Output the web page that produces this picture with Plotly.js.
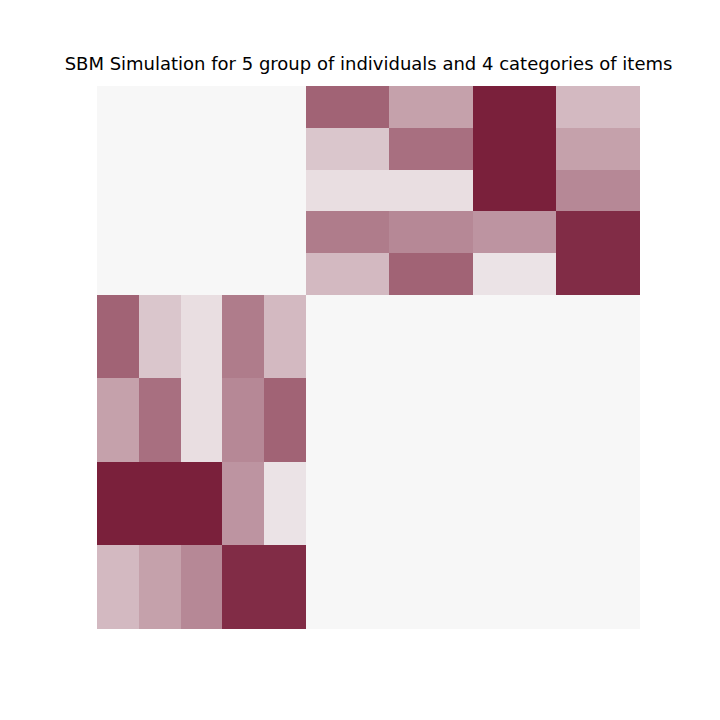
<!DOCTYPE html>
<html>
<head>
<meta charset="utf-8">
<script src="https://cdn.plot.ly/plotly-3.0.1.min.js"></script>
<style>
  html, body { margin: 0; padding: 0; background: #fff; }
  #sbm { width: 720px; height: 720px; }
</style>
</head>
<body>
<div id="sbm"></div>
<script>
// sizes of the blocks (individuals first, then items)
var groupSizes = [20, 20, 20, 20, 20];
var categorySizes = [40, 40, 40, 40];

// connection probability, one row per group of individuals, one column per item category
var probG1 = [0.60, 0.35, 0.87, 0.25];
var probG2 = [0.20, 0.55, 0.87, 0.35];
var probG3 = [0.10, 0.10, 0.87, 0.45];
var probG4 = [0.50, 0.45, 0.40, 0.82];
var probG5 = [0.25, 0.60, 0.08, 0.82];
var probs = [probG1, probG2, probG3, probG4, probG5];

// block edges along both axes of the adjacency matrix
var sizes = groupSizes.concat(categorySizes);
var edges = [0];
sizes.forEach(function (s) { edges.push(edges[edges.length - 1] + s); });

var nG = groupSizes.length;
var z = [];
for (var i = 0; i < sizes.length; i++) {
    var row = [];
    for (var j = 0; j < sizes.length; j++) {
        if (i < nG && j >= nG) row.push(probs[i][j - nG]);
        else if (i >= nG && j < nG) row.push(probs[j][i - nG]);
        else row.push(0);
    }
    z.push(row);
}

var trace = {
    type: 'heatmap',
    x: edges,
    y: edges,
    z: z,
    zmin: 0,
    zmax: 1,
    colorscale: [[0, '#f7f7f7'], [1, '#67001f']],
    showscale: false,
    hoverinfo: 'z'
};

var layout = {
    width: 720,
    height: 720,
    margin: {l: 97, r: 80, t: 86, b: 91},
    paper_bgcolor: '#ffffff',
    plot_bgcolor: '#ffffff',
    title: {
        text: 'SBM Simulation for 5 group of individuals and 4 categories of items',
        font: {family: 'DejaVu Sans', size: 18, color: '#000'},
        x: 0.5, xref: 'paper', xanchor: 'center',
        y: 1 - 64 / 720, yref: 'container', yanchor: 'middle'
    },
    xaxis: {visible: false, range: [0, 260], fixedrange: true},
    yaxis: {visible: false, range: [260, 0], fixedrange: true}
};

Plotly.newPlot('sbm', [trace], layout, {displayModeBar: false, staticPlot: true});
</script>
</body>
</html>
